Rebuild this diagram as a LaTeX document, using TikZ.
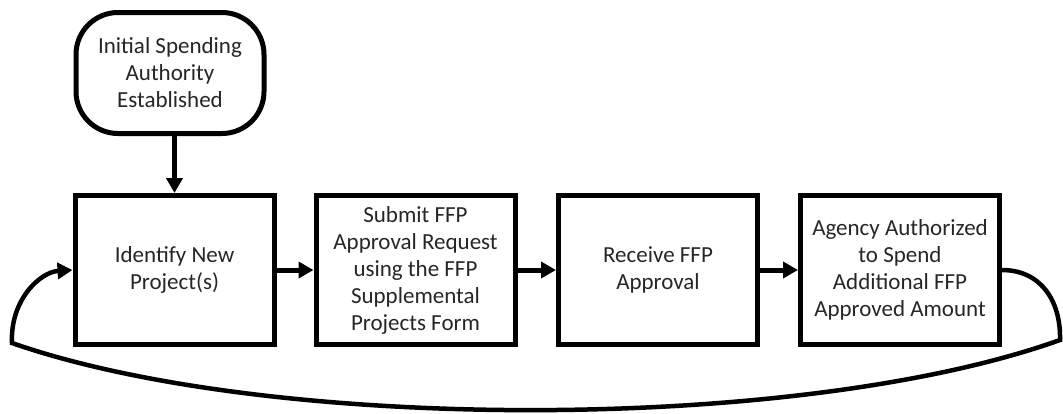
\documentclass[tikz,border=0pt]{standalone}
\usepackage{fontspec}
\setmainfont{Carlito}
\usetikzlibrary{arrows.meta}
\begin{document}
\begin{tikzpicture}[x=1pt,y=-1pt,
  txt/.style={font=\fontsize{23}{27}\selectfont, text=black!85, align=center},
  procbox/.style={draw, line width=5pt, minimum width=199pt, minimum height=149pt, inner sep=0pt, txt},
  termbox/.style={draw, line width=5pt, rounded corners=42pt, minimum width=188pt, minimum height=121pt, inner sep=0pt, txt},
  flow/.style={line width=5pt, -{Triangle[length=15pt,width=16pt]}},
  loopflow/.style={line width=4.5pt, -{Triangle[length=15pt,width=16pt]}}]
\useasboundingbox (0,0) rectangle (1063,413);
\node[termbox] (t) at (170,73) {Initial Spending\\Authority\\Established};
\node[procbox] (b1) at (174.5,270) {Identify New\\Project(s)};
\node[procbox] (b2) at (415.5,270) {Submit FFP\\Approval Request\\using the FFP\\Supplemental\\Projects Form};
\node[procbox] (b3) at (658,270) {Receive FFP\\Approval};
\node[procbox] (b4) at (900,270) {Agency Authorized\\to Spend\\Additional FFP\\Approved Amount};
\coordinate (rc) at (1060,340);
\coordinate (lc) at (12,343);
\draw[flow] (t.south -| b1.north) -- (b1.north);
\draw[flow] (b1.east) -- (b2.west);
\draw[flow] (b2.east) -- (b3.west);
\draw[flow] (b3.east) -- (b4.west);
\draw[loopflow] (b4.east) .. controls (1040,270) and (1061,300) .. (rc)
  .. controls (800,433) and (270,433) .. (lc)
  .. controls (10,300) and (40,272) .. (b1.west);
\end{tikzpicture}
\end{document}
